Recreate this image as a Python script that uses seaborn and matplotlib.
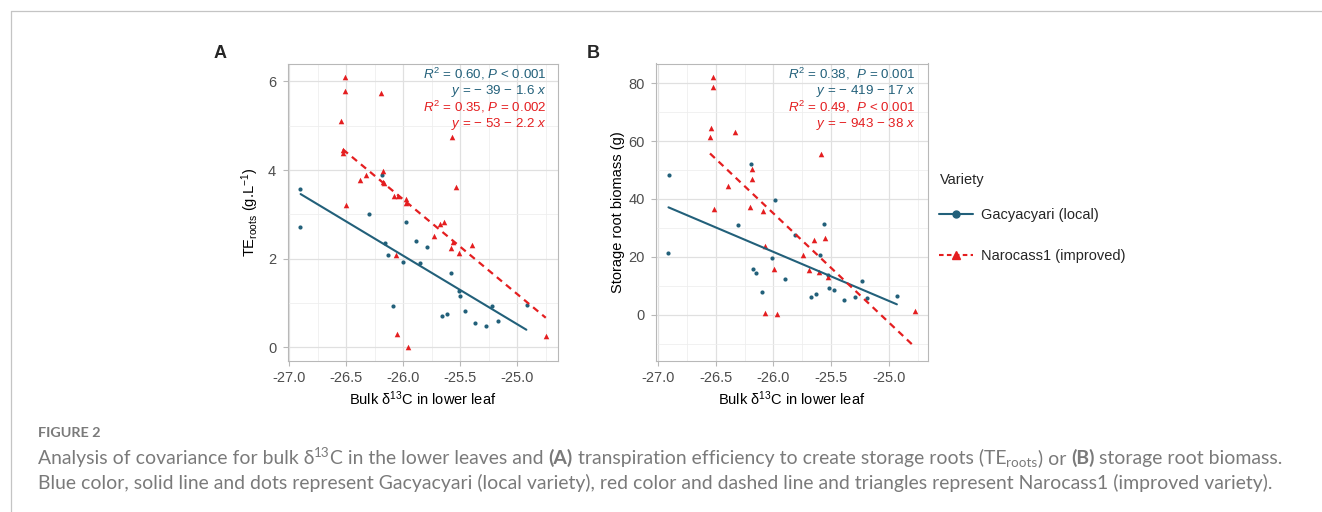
import matplotlib
matplotlib.use("Agg")
import matplotlib.pyplot as plt
import seaborn as sns
import numpy as np
import pandas as pd
from matplotlib.lines import Line2D
from matplotlib.ticker import MultipleLocator, FuncFormatter

# ---------------- data ----------------
# Panel A: TE_roots vs bulk d13C
a_local_x = [-26.901, -26.907, -26.190, -26.297, -25.980, -26.163, -26.137, -26.003,
             -25.890, -25.855, -26.094, -25.794, -25.585, -25.510, -25.506, -25.661,
             -25.620, -25.460, -25.370, -25.275, -25.219, -25.173, -24.917]
a_local_y = [3.57, 2.72, 3.89, 3.01, 2.82, 2.36, 2.08, 1.93,
             2.40, 1.91, 0.93, 2.26, 1.68, 1.27, 1.16, 0.72,
             0.75, 0.83, 0.56, 0.48, 0.93, 0.59, 0.96]
a_impr_x = [-26.512, -26.508, -26.543, -26.532, -26.529, -26.506, -26.378, -26.323,
            -26.195, -26.175, -26.181, -26.172, -26.085, -26.050, -25.977, -25.974,
            -26.064, -26.055, -25.957, -25.571, -25.539, -25.733, -25.678, -25.641,
            -25.582, -25.562, -25.512, -25.397, -24.748]
a_impr_y = [6.10, 5.78, 5.10, 4.45, 4.39, 3.21, 3.78, 3.89,
            5.74, 3.99, 3.74, 3.71, 3.42, 3.42, 3.34, 3.26,
            2.08, 0.30, 0.00, 4.74, 3.63, 2.52, 2.79, 2.84,
            2.24, 2.37, 2.14, 2.32, 0.27]
a_local_fit_x = [-26.90, -24.92]
a_local_fit_y = [3.46, 0.40]
a_impr_fit_x = [-26.53, -24.75]
a_impr_fit_y = [4.47, 0.67]

# Panel B: storage root biomass vs bulk d13C
b_local_x = [-26.909, -26.911, -26.196, -25.990, -26.306, -26.014, -26.173, -26.147,
             -25.904, -26.103, -25.811, -25.565, -25.600, -25.527, -25.675, -25.634,
             -25.521, -25.475, -25.388, -25.289, -25.235, -25.189, -24.933]
b_local_y = [48.3, 21.3, 52.2, 39.8, 30.9, 19.7, 15.9, 14.3,
             12.2, 8.0, 27.5, 31.2, 20.8, 13.9, 6.3, 7.0,
             9.1, 8.4, 5.0, 6.2, 11.5, 5.9, 6.5]
b_impr_x = [-26.520, -26.520, -26.540, -26.553, -26.332, -26.512, -26.393, -26.182,
            -26.182, -26.202, -26.092, -26.075, -25.993, -26.069, -25.967, -25.585,
            -25.747, -25.652, -25.556, -25.695, -25.606, -25.530, -24.772]
b_impr_y = [82.1, 78.7, 64.6, 61.5, 63.0, 36.5, 44.5, 50.2,
            46.9, 37.3, 35.8, 23.7, 15.9, 0.5, 0.2, 55.6,
            20.8, 25.8, 26.5, 15.6, 14.7, 13.0, 1.3]
b_local_fit_x = [-26.91, -24.93]
b_local_fit_y = [37.1, 3.6]
b_impr_fit_x = [-26.55, -24.77]
b_impr_fit_y = [55.7, -11.3]

varieties = ["Gacyacyari (local)", "Narocass1 (improved)"]
legend_title = "Variety"
a_stats = [r"$R^{\mathrm{2}}$ = 0.60, $P$ < 0.001", r"$y$ = − 39 − 1.6 $x$",
           r"$R^{\mathrm{2}}$ = 0.35, $P$ = 0.002", r"$y$ = − 53 − 2.2 $x$"]
b_stats = [r"$R^{\mathrm{2}}$ = 0.38,  $P$ = 0.001", r"$y$ = − 419 − 17 $x$",
           r"$R^{\mathrm{2}}$ = 0.49,  $P$ < 0.001", r"$y$ = − 943 − 38 $x$"]
a_ylabel = r"TE$_{\mathrm{roots}}$ (g.L$^{\mathrm{−1}}$)"
b_ylabel = "Storage root biomass (g)"
xlabel = r"Bulk δ$^{\mathrm{13}}$C in lower leaf"

# ---------------- style ----------------
sns.set_theme(style="white")
plt.rcParams["font.family"] = ["Liberation Sans", "DejaVu Sans"]
plt.rcParams["mathtext.fontset"] = "custom"
plt.rcParams["mathtext.rm"] = "Liberation Sans"
plt.rcParams["mathtext.it"] = "Liberation Sans:italic"
plt.rcParams["mathtext.bf"] = "Liberation Sans:bold"
plt.rcParams["axes.unicode_minus"] = False

BLUE = "#22607A"
RED = "#E41E20"
W, H = 1322, 512
fig = plt.figure(figsize=(W / 100, H / 100), dpi=100)
fig.patch.set_facecolor("white")


def add_axes_px(left, right, top, bottom):
    return fig.add_axes([left / W, 1 - bottom / H, (right - left) / W, (bottom - top) / H])


axA = add_axes_px(287.5, 558.3, 63.5, 361)
axB = add_axes_px(656, 927.7, 63.5, 361)


def draw_panel(ax, lx, ly, ix, iy, lfx, lfy, ifx, ify, ymaj, ymin, stats, ylabel, ylab_x):
    dl = pd.DataFrame({"x": lx, "y": ly})
    di = pd.DataFrame({"x": ix, "y": iy})
    sns.scatterplot(data=dl, x="x", y="y", ax=ax, color=BLUE, marker="o", s=9,
                    linewidth=0, legend=False, zorder=3)
    sns.scatterplot(data=di, x="x", y="y", ax=ax, color=RED, marker="^", s=16,
                    linewidth=0, legend=False, zorder=3)
    sns.lineplot(x=lfx, y=lfy, ax=ax, color=BLUE, lw=1.5, zorder=4)
    sns.lineplot(x=ifx, y=ify, ax=ax, color=RED, lw=1.6, zorder=4)
    ax.lines[-1].set_dashes((3.0, 2.3))

    allx = np.concatenate([lx, ix, lfx, ifx])
    ally = np.concatenate([ly, iy, lfy, ify])
    xr = allx.max() - allx.min()
    yr = ally.max() - ally.min()
    ax.set_xlim(allx.min() - 0.05 * xr, allx.max() + 0.05 * xr)
    ax.set_ylim(ally.min() - 0.05 * yr, ally.max() + 0.05 * yr)

    ax.xaxis.set_major_locator(MultipleLocator(0.5))
    ax.xaxis.set_minor_locator(MultipleLocator(0.25))
    ax.yaxis.set_major_locator(MultipleLocator(ymaj))
    ax.yaxis.set_minor_locator(MultipleLocator(ymin))
    ax.xaxis.set_major_formatter(FuncFormatter(lambda v, p: f"{v:.1f}"))
    ax.yaxis.set_major_formatter(FuncFormatter(lambda v, p: f"{v:.0f}"))
    ax.grid(which="major", color="#E0E0E0", lw=0.9)
    ax.grid(which="minor", color="#EEEEEE", lw=0.55)
    ax.set_axisbelow(True)
    for sp in ax.spines.values():
        sp.set_color("#B8B8B8")
        sp.set_linewidth(0.8)
    ax.tick_params(which="major", direction="out", length=3.5, width=0.8,
                   color="#B8B8B8", labelsize=10.5, labelcolor="#4D4D4D",
                   bottom=True, left=True)
    ax.tick_params(axis="x", which="major", pad=3.4)
    ax.tick_params(axis="y", which="major", pad=4.6)
    ax.tick_params(which="minor", length=0)
    ax.set_xlabel(xlabel, fontsize=10.5, color="black")
    ax.set_ylabel(ylabel, fontsize=10.5, color="black")
    ax.xaxis.set_label_coords(0.5, -0.095)
    ax.yaxis.set_label_coords(ylab_x, 0.5)

    ys = [0.9479, 0.8965, 0.8387, 0.7872]
    cols = [BLUE, BLUE, RED, RED]
    for s, yv, c in zip(stats, ys, cols):
        ax.text(0.956, yv, s, transform=ax.transAxes, ha="right", va="baseline",
                fontsize=9.6, color=c)


draw_panel(axA, np.array(a_local_x), np.array(a_local_y), np.array(a_impr_x), np.array(a_impr_y),
           np.array(a_local_fit_x), np.array(a_local_fit_y), np.array(a_impr_fit_x),
           np.array(a_impr_fit_y), 2, 1, a_stats, a_ylabel, -0.097)
draw_panel(axB, np.array(b_local_x), np.array(b_local_y), np.array(b_impr_x), np.array(b_impr_y),
           np.array(b_local_fit_x), np.array(b_local_fit_y), np.array(b_impr_fit_x),
           np.array(b_impr_fit_y), 20, 10, b_stats, b_ylabel, -0.113)

fig.text(220 / W, 1 - 54 / H, "A", fontsize=13, fontweight="bold", ha="center", va="center")
fig.text(593 / W, 1 - 54 / H, "B", fontsize=13, fontweight="bold", ha="center", va="center")

# legend
fig.text(940 / W, 1 - 180 / H, legend_title, fontsize=10.5, ha="left", va="center")
handles = [Line2D([0], [0], color=BLUE, lw=1.5, marker="o", markersize=5),
           Line2D([0], [0], color=RED, lw=1.5, ls=(0, (2.2, 1.6)), marker="^", markersize=6)]
leg = fig.legend(handles, varieties, loc="upper left",
                 bbox_to_anchor=(939 / W, 1 - 208 / H), frameon=False, fontsize=10.5,
                 labelspacing=1.85, handlelength=2.3,
                 handletextpad=0.6, borderaxespad=0, borderpad=0)

# frame of the figure card
fig.add_artist(Line2D([10.5 / W, 1], [1 - 10.5 / H, 1 - 10.5 / H], color="#C4C4C4", lw=0.9))
fig.add_artist(Line2D([10.5 / W, 10.5 / W], [0, 1 - 10.5 / H], color="#C4C4C4", lw=0.9))

# caption
renderer = fig.canvas.get_renderer()
CAP_FONT = ["Lato", "DejaVu Sans"]
CAP_COL = "#7A7A7A"


def text_w(txt, size, weight):
    t1 = fig.text(0, 0, "|" + txt + "|", fontsize=size, fontweight=weight, family=CAP_FONT)
    t2 = fig.text(0, 0, "||", fontsize=size, fontweight=weight, family=CAP_FONT)
    w = t1.get_window_extent(renderer).width - t2.get_window_extent(renderer).width
    t1.remove()
    t2.remove()
    return w


def runs_width(runs, base):
    tot = 0
    for txt, kind in runs:
        fs = base * 0.7 if kind in ("sup", "sub") else base
        wt = "bold" if kind == "b" else "normal"
        tot += text_w(txt, fs, wt)
    return tot


def draw_runs(runs, base, x0, baseline, color):
    x = x0
    bpx = base * 100 / 72
    for txt, kind in runs:
        fs = base * 0.7 if kind in ("sup", "sub") else base
        wt = "bold" if kind == "b" else "normal"
        dy = 0.0
        if kind == "sup":
            dy = 0.38 * bpx
        elif kind == "sub":
            dy = -0.18 * bpx
        fig.text(x / W, (H - baseline + dy) / H, txt, fontsize=fs, fontweight=wt,
                 family=CAP_FONT, color=color, ha="left", va="baseline")
        x += text_w(txt, fs, wt)


line1 = [("Analysis of covariance for bulk δ", "n"), ("13", "sup"),
         ("C in the lower leaves and ", "n"), ("(A)", "b"),
         (" transpiration efficiency to create storage roots (TE", "n"), ("roots", "sub"),
         (") or ", "n"), ("(B)", "b"), (" storage root biomass.", "n")]
line2 = [("Blue color, solid line and dots represent Gacyacyari (local variety), red color "
          "and dashed line and triangles represent Narocass1 (improved variety).", "n")]
fig_lbl = [("FIGURE 2", "b")]

base = 12.0
base = base * 1240 / runs_width(line1, base)
base = base * 1240 / runs_width(line1, base)
fb = 9.0
fb = fb * 63 / runs_width(fig_lbl, fb)

draw_runs(fig_lbl, fb, 38, 437, CAP_COL)
draw_runs(line1, base, 38, 464, CAP_COL)
draw_runs(line2, base, 38, 489, CAP_COL)

fig.savefig("out.png", dpi=100, facecolor="white")
